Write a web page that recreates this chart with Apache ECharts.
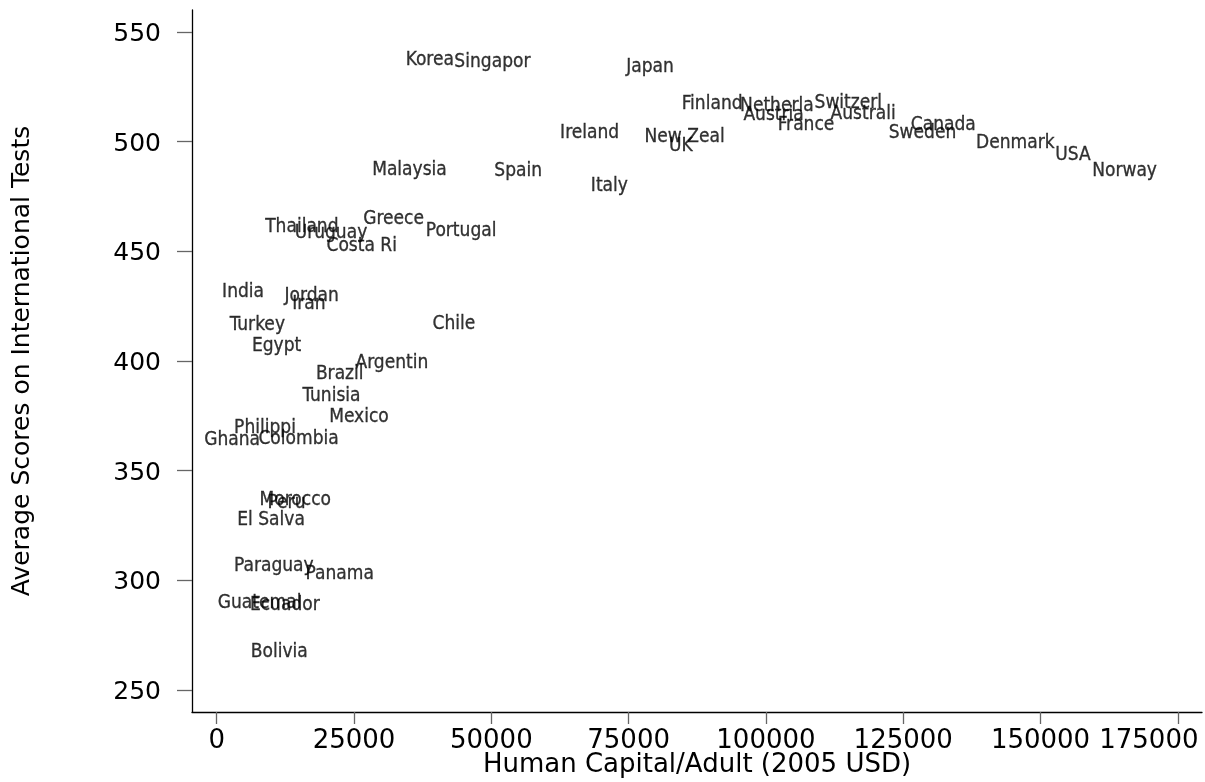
<!DOCTYPE html>
<html>
<head>
<meta charset="utf-8">
<style>
  html, body { margin: 0; padding: 0; background: #fff; }
  #chart { width: 1205px; height: 782px; }
</style>
<script src="https://cdn.jsdelivr.net/npm/echarts@6/dist/echarts.min.js"></script>
</head>
<body>
<div id="chart"></div>
<script>
// Country labels, human capital per adult (2005 USD) and average test scores
const countries = [
  'Korea', 'Singapor', 'Japan', 'Ireland', 'Malaysia', 'Spain', 'Italy',
  'Greece', 'Thailand', 'Uruguay', 'Costa Ri', 'Portugal',
  'Finland', 'Netherla', 'Austria', 'Switzerl', 'Australi', 'France',
  'New Zeal', 'UK', 'Canada', 'Sweden', 'Denmark', 'USA', 'Norway',
  'India', 'Jordan', 'Iran', 'Turkey', 'Chile', 'Egypt', 'Argentin',
  'Brazil', 'Tunisia', 'Mexico', 'Philippi', 'Ghana', 'Colombia',
  'Morocco', 'Peru', 'El Salva', 'Paraguay', 'Panama', 'Guatemal',
  'Ecuador', 'Bolivia'
];
const capital = [
  38800, 50200, 78900, 67900, 35100, 54900, 71500,
  32200, 15500, 20800, 26400, 44500,
  90200, 102000, 101400, 115000, 117700, 107300,
  85200, 84500, 132300, 128500, 145400, 155900, 165300,
  4800, 17300, 16800, 7400, 43200, 10900, 31900,
  22400, 20900, 25900, 8800, 2800, 14900,
  14300, 12700, 9900, 10400, 22400, 7800,
  12400, 11400
];
const scores = [
  537.4, 536.2, 534.2, 503.8, 487.1, 486.5, 479.7,
  464.6, 461.0, 458.3, 452.3, 459.2,
  516.9, 516.0, 512.3, 517.6, 512.5, 507.5,
  501.9, 498.0, 507.7, 504.1, 499.3, 493.7, 486.5,
  431.4, 429.5, 425.8, 416.6, 416.9, 407.0, 398.9,
  393.9, 384.1, 374.5, 369.3, 364.1, 364.5,
  336.6, 335.2, 327.5, 306.5, 302.7, 289.8,
  288.7, 267.5
];
const xTicks = [0, 25000, 50000, 75000, 100000, 125000, 150000, 175000];
const yTicks = [250, 300, 350, 400, 450, 500, 550];

const points = countries.map((name, i) => [capital[i], scores[i], name]);

const chart = echarts.init(document.getElementById('chart'), null, { renderer: 'canvas' });

const axisFont = '"DejaVu Sans", "Liberation Sans", sans-serif';
const labelFont = '"Liberation Sans Narrow", "DejaVu Sans Condensed", "Liberation Sans", sans-serif';

chart.setOption({
  animation: false,
  backgroundColor: '#ffffff',
  grid: {
    left: 192, right: 3, top: 10, bottom: 70,
    containLabel: false,
    outerBoundsMode: 'none'
  },
  xAxis: {
    type: 'value',
    min: -4500,
    max: 179400,
    name: 'Human Capital/Adult (2005 USD)',
    nameLocation: 'middle',
    nameGap: 40,
    nameMoveOverlap: false,
    nameTextStyle: { fontFamily: axisFont, fontSize: 26, color: '#000' },
    axisLine: { show: true, onZero: false, lineStyle: { color: '#000', width: 1.3 } },
    axisTick: {
      show: true, inside: false, length: 12,
      customValues: xTicks,
      lineStyle: { color: '#666', width: 1.3 }
    },
    axisLabel: {
      show: true,
      customValues: xTicks,
      margin: 16,
      fontFamily: axisFont,
      fontSize: 26,
      color: '#000',
      formatter: function (v) {
        return v === 175000 ? '{last|' + v + '}' : String(v);
      },
      rich: {
        last: { fontFamily: axisFont, fontSize: 26, color: '#000', padding: [0, 58, 0, 0] }
      }
    },
    splitLine: { show: false }
  },
  yAxis: {
    type: 'value',
    min: 240,
    max: 560,
    name: 'Average Scores on International Tests',
    nameLocation: 'middle',
    nameGap: 157,
    nameMoveOverlap: false,
    nameRotate: 90,
    nameTextStyle: { fontFamily: axisFont, fontSize: 25, color: '#000' },
    axisLine: { show: true, onZero: false, lineStyle: { color: '#000', width: 1.3 } },
    axisTick: {
      show: true, inside: false, length: 15,
      customValues: yTicks,
      lineStyle: { color: '#666', width: 1.3 }
    },
    axisLabel: {
      show: true,
      customValues: yTicks,
      margin: 31,
      fontFamily: axisFont,
      fontSize: 25,
      color: '#000',
      formatter: function (v) { return '{n|' + v + '}'; },
      rich: {
        n: { fontFamily: axisFont, fontSize: 25, color: '#000', padding: [5, 0, 0, 0] }
      }
    },
    splitLine: { show: false }
  },
  series: [{
    type: 'scatter',
    silent: true,
    symbol: 'circle',
    symbolSize: 0.1,
    itemStyle: { color: 'rgba(0,0,0,0)' },
    data: points,
    label: {
      show: true,
      position: 'inside',
      formatter: function (p) { return p.data[2]; },
      fontFamily: labelFont,
      fontSize: 19,
      color: '#000',
      textBorderColor: '#000',
      textBorderWidth: 0.3
    },
    labelLayout: { hideOverlap: false }
  }]
});
</script>
</body>
</html>
